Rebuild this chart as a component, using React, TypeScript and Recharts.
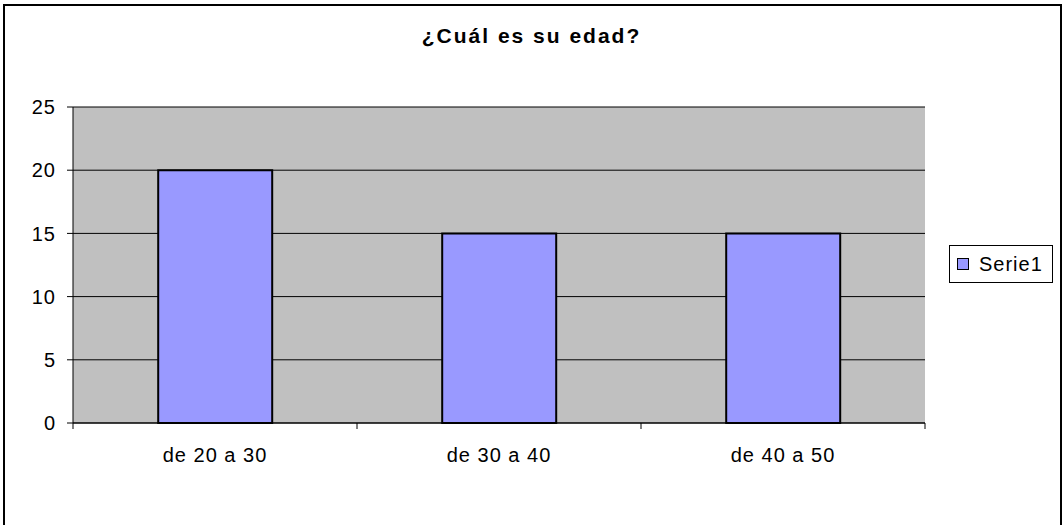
import React from "react";
import {
  BarChart,
  Bar,
  XAxis,
  YAxis,
  CartesianGrid,
  Legend,
} from "recharts";

const categories = ["de 20 a 30", "de 30 a 40", "de 40 a 50"];
const serie1 = [20, 15, 15];
const yTicks = [0, 5, 10, 15, 20, 25];
const seriesName = "Serie1";
const title = "¿Cuál es su edad?";

const data = categories.map((c, i) => ({ name: c, Serie1: serie1[i] }));

const FONT = "'Liberation Sans', Arial, sans-serif";

const CatTick = (props: any) => {
  const { x, y, payload, index, width, visibleTicksCount } = props;
  const band = width / visibleTicksCount;
  const left = x - band / 2;
  return (
    <g>
      <line x1={left} y1={y} x2={left} y2={y + 6} stroke="#000" strokeWidth={1} />
      {index === visibleTicksCount - 1 && (
        <line x1={left + band} y1={y} x2={left + band} y2={y + 6} stroke="#000" strokeWidth={1} />
      )}
      <text
        x={x}
        y={y + 39}
        textAnchor="middle"
        fill="#000"
        fontSize={20}
        fontFamily={FONT}
        letterSpacing={1}
      >
        {payload.value}
      </text>
    </g>
  );
};

const LegendBox = (props: any) => {
  const items = props.payload || [];
  return (
    <div
      style={{
        width: 104,
        height: 38,
        boxSizing: "border-box",
        border: "1px solid #000",
        background: "#fff",
        display: "flex",
        alignItems: "center",
        fontFamily: FONT,
        fontSize: 20,
        letterSpacing: 1,
      }}
    >
      {items.map((it: any) => (
        <div key={it.value} style={{ display: "flex", alignItems: "center" }}>
          <span
            style={{
              display: "inline-block",
              width: 12,
              height: 12,
              boxSizing: "border-box",
              border: "1px solid #000",
              background: it.color,
              marginLeft: 7,
              marginRight: 10,
            }}
          />
          <span style={{ color: "#000" }}>{it.value}</span>
        </div>
      ))}
    </div>
  );
};

export default function App() {
  return (
    <div
      style={{
        position: "absolute",
        left: 0,
        top: 0,
        width: 1063,
        height: 525,
        overflow: "hidden",
        background: "#fff",
      }}
    >
      <div
        style={{
          position: "absolute",
          left: 3,
          top: 4,
          width: 1059,
          height: 560,
          boxSizing: "border-box",
          border: "2px solid #000",
        }}
      />
      <div
        style={{
          position: "absolute",
          left: 0,
          width: 1063,
          top: 24,
          textAlign: "center",
          fontFamily: FONT,
          fontWeight: "bold",
          fontSize: 21,
          letterSpacing: 2,
          color: "#000",
          lineHeight: "24px",
        }}
      >
        {title}
      </div>
      <div style={{ position: "absolute", left: 0, top: 0 }}>
        <BarChart
          width={1063}
          height={525}
          data={data}
          margin={{ top: 107, right: 138, bottom: 34, left: 0 }}
          barCategoryGap="30%"
        >
          <CartesianGrid
            vertical={false}
            horizontal={true}
            stroke="#000"
            strokeOpacity={1}
            fill="#C0C0C0"
            fillOpacity={1}
          />
          <XAxis
            dataKey="name"
            tickLine={false}
            tickSize={0}
            tickMargin={0}
            axisLine={{ stroke: "#000", strokeWidth: 1 }}
            tick={<CatTick />}
            height={30}
            interval={0}
          />
          <XAxis
            xAxisId="top"
            orientation="top"
            dataKey="name"
            height={0}
            tick={false}
            tickLine={false}
            axisLine={{ stroke: "#808080", strokeWidth: 2 }}
          />
          <YAxis
            domain={[0, 25]}
            ticks={yTicks}
            width={73}
            tickSize={6}
            tickMargin={11}
            tickLine={{ stroke: "#000" }}
            axisLine={{ stroke: "#000", strokeWidth: 1 }}
            tick={{ fill: "#000", fontSize: 20, fontFamily: FONT, letterSpacing: 1 }}
            interval={0}
          />
          <YAxis
            yAxisId="right"
            orientation="right"
            width={0}
            domain={[0, 25]}
            tick={false}
            tickLine={false}
            axisLine={{ stroke: "#808080", strokeWidth: 2 }}
          />
          <Legend
            content={<LegendBox />}
            wrapperStyle={{ position: "absolute", left: 949, top: 245, width: 104, height: 38 }}
          />
          <Bar
            dataKey="Serie1"
            name={seriesName}
            fill="#9999FF"
            stroke="#000"
            strokeWidth={2}
            isAnimationActive={false}
          />
        </BarChart>
      </div>
    </div>
  );
}
